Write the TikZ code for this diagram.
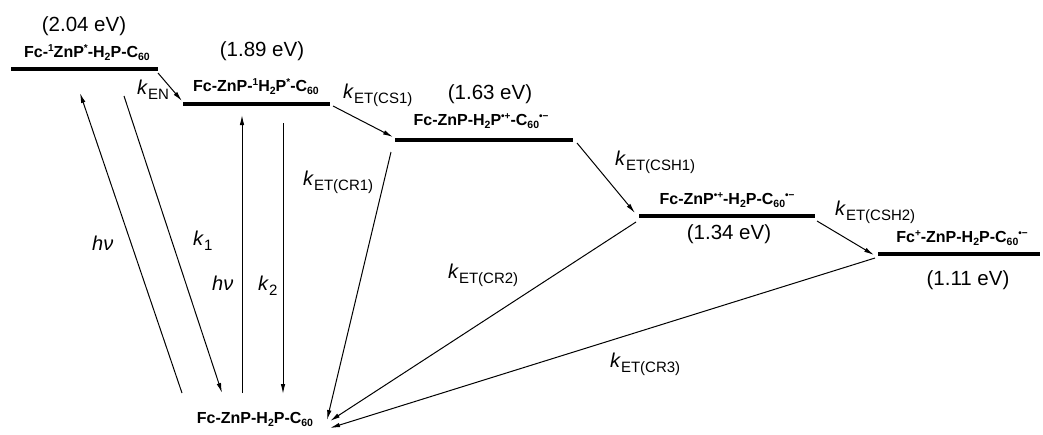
\documentclass[tikz,border=0pt]{standalone}
\usepackage{fontspec}
\setmainfont{Liberation Sans}
\usetikzlibrary{arrows.meta}
\newcommand\kk[1]{\textit{k}\raisebox{-5pt}{\fontsize{15}{15}\selectfont #1}}
\newcommand\lsub[1]{\raisebox{-3.5pt}{\fontsize{10.5}{10.5}\selectfont #1}}
\newcommand\lsup[1]{\raisebox{6pt}{\fontsize{10}{10}\selectfont #1}}
\tikzset{
  level/.style={line width=3.5pt},
  conn/.style={line width=1pt,-{Latex[length=10pt,width=4.5pt]}},
  ev/.style={anchor=base,inner sep=0pt,font=\fontsize{20.5}{20.5}\selectfont},
  spec/.style={anchor=base,inner sep=0pt,font=\fontsize{16}{16}\selectfont\bfseries},
  rate/.style={anchor=base west,inner sep=0pt,font=\fontsize{20}{20}\selectfont},
}
\begin{document}
\begin{tikzpicture}[x=1pt,y=-1pt]
\useasboundingbox (0,0) rectangle (1043,434);
% level endpoints
\coordinate (L1a) at (11,69);  \coordinate (L1b) at (158,69);
\coordinate (L2a) at (183,104); \coordinate (L2b) at (330,104);
\coordinate (L3a) at (395,140); \coordinate (L3b) at (573,140);
\coordinate (L4a) at (639,216); \coordinate (L4b) at (815,216);
\coordinate (L5a) at (878,254); \coordinate (L5b) at (1040,254);
\draw[level] (L1a) -- (L1b);
\draw[level] (L2a) -- (L2b);
\draw[level] (L3a) -- (L3b);
\draw[level] (L4a) -- (L4b);
\draw[level] (L5a) -- (L5b);
% labels
\node[ev] (e1) at (84,31) {(2.04 eV)};
\node[spec] (s1) at (87,57) {Fc-\lsup{1}ZnP\lsup{*}-H\lsub{2}P-C\lsub{60}};
\node[ev] (e2) at (262,56) {(1.89 eV)};
\node[spec] (s2) at (256,91) {Fc-ZnP-\lsup{1}H\lsub{2}P\lsup{*}-C\lsub{60}};
\node[ev] (e3) at (490,99) {(1.63 eV)};
\node[spec] (s3) at (481,125) {Fc-ZnP-H\lsub{2}P\lsup{•+}-C\lsub{60}\lsup{•−}};
\node[spec] (s4) at (727,204) {Fc-ZnP\lsup{•+}-H\lsub{2}P-C\lsub{60}\lsup{•−}};
\node[ev] (e4) at (729,239) {(1.34 eV)};
\node[spec] (s5) at (962,242) {Fc\lsup{+}-ZnP-H\lsub{2}P-C\lsub{60}\lsup{•−}};
\node[ev] (e5) at (968,285) {(1.11 eV)};
\node[spec] (s0) at (255,423) {Fc-ZnP-H\lsub{2}P-C\lsub{60}};
% rate labels
\node[rate] (rEN) at (137,94) {\kk{EN}};
\node[rate] (rCS1) at (343,98) {\kk{ET(CS1)}};
\node[rate] (rCSH1) at (615,165) {\kk{ET(CSH1)}};
\node[rate] (rCSH2) at (835,215) {\kk{ET(CSH2)}};
\node[rate] (rCR1) at (303,185) {\kk{ET(CR1)}};
\node[rate] (rCR2) at (448,278) {\kk{ET(CR2)}};
\node[rate] (rCR3) at (610,367) {\kk{ET(CR3)}};
\node[rate] (hv1) at (92,250) {\textit{hν}};
\node[rate] (rk1) at (193,245) {\kk{1}};
\node[rate] (hv2) at (212,290) {\textit{hν}};
\node[rate] (rk2) at (258,290) {\kk{2}};
% connector ends
\coordinate (a1) at (80,93);   \coordinate (a2) at (124,96);  \coordinate (a3) at (158,73);
\coordinate (b1) at (182,101); \coordinate (b2) at (242,115); \coordinate (b3) at (283,123); \coordinate (b4) at (333,106);
\coordinate (c1) at (393,137); \coordinate (c2) at (391,152); \coordinate (c3) at (577,143);
\coordinate (d1) at (635,213); \coordinate (d2) at (636,222); \coordinate (d3) at (817,221);
\coordinate (f1) at (874,255); \coordinate (f2) at (875,258);
\coordinate (g1) at (182,393); \coordinate (g2) at (222,393); \coordinate (g3) at (242,393);
\coordinate (g4) at (283,394); \coordinate (g5) at (327,420); \coordinate (g6) at (330,421);
\coordinate (g7) at (330,428);
% connectors
\draw[conn] (g1) -- (a1);
\draw[conn] (a2) -- (g2);
\draw[conn] (a3) -- (b1);
\draw[conn] (g3) -- (b2);
\draw[conn] (b3) -- (g4);
\draw[conn] (b4) -- (c1);
\draw[conn] (c2) -- (g5);
\draw[conn] (c3) -- (d1);
\draw[conn] (d2) -- (g6);
\draw[conn] (d3) -- (f1);
\draw[conn] (f2) -- (g7);
\end{tikzpicture}
\end{document}
